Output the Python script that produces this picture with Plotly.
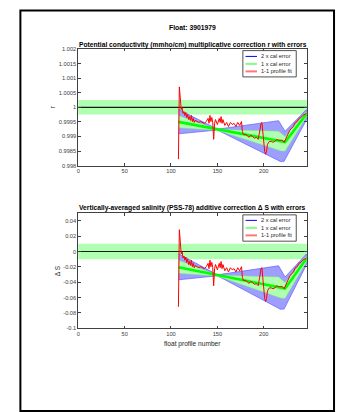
import plotly.graph_objects as go

# ---------------- data ----------------
profiles = [108, 109, 110, 111, 112, 113, 114, 115, 116, 117, 118, 119, 120, 121, 122, 123, 124, 125, 126,
            128, 130, 132, 134, 136, 138, 140, 141, 142, 143, 144, 145, 146, 147, 148, 150, 152, 153, 154,
            155, 156, 158, 160, 162, 164, 166, 168, 170, 172, 174, 176, 177, 178, 180, 182, 184, 186, 188,
            190, 192, 194, 196, 197, 198, 199, 200, 201, 202, 203, 204, 205, 206, 208, 210, 212, 214, 216,
            218, 220, 222, 224, 226, 228, 230, 232, 234, 236, 238, 240, 242, 244, 246]

cond_profile_fit = [0.99822, 1.00070, 1.00033, 0.99992, 0.99999, 0.99979, 0.99985, 0.99972, 0.99982, 0.99965,
                    0.99975, 0.99958, 0.99968, 0.99955, 0.99972, 0.99951, 0.99962, 0.99948, 0.99955,
                    0.99951, 0.99948, 0.99951, 0.99948, 0.99945, 0.99951, 0.99962, 0.99945, 0.99972, 0.99951,
                    0.99965, 0.99948, 0.99890, 0.99945, 0.99958, 0.99941, 0.99962, 0.99948, 0.99968,
                    0.99945, 0.99958, 0.99938, 0.99948, 0.99934, 0.99948, 0.99941, 0.99945, 0.99934, 0.99948,
                    0.99938, 0.99951, 0.99917, 0.99907, 0.99907, 0.99904, 0.99897, 0.99904, 0.99900,
                    0.99894, 0.99897, 0.99890, 0.99924, 0.99945, 0.99948, 0.99917, 0.99866, 0.99849, 0.99839,
                    0.99849, 0.99873, 0.99880, 0.99883, 0.99883, 0.99880, 0.99883, 0.99890, 0.99887,
                    0.99887, 0.99887, 0.99880, 0.99894, 0.99907, 0.99921, 0.99928, 0.99934, 0.99948, 0.99951,
                    0.99962, 0.99965, 0.99972, 0.99975, 0.99979]

sal_profile_fit = [-0.0721, 0.0284, 0.0134, -0.0032, -0.0004, -0.0085, -0.0061, -0.0113, -0.0073, -0.0142,
                   -0.0101, -0.0170, -0.0130, -0.0182, -0.0113, -0.0198, -0.0154, -0.0211, -0.0182,
                   -0.0198, -0.0211, -0.0198, -0.0211, -0.0223, -0.0198, -0.0154, -0.0223, -0.0113, -0.0198,
                   -0.0142, -0.0211, -0.0446, -0.0223, -0.0170, -0.0239, -0.0154, -0.0211, -0.0130,
                   -0.0223, -0.0170, -0.0251, -0.0211, -0.0267, -0.0211, -0.0239, -0.0223, -0.0267, -0.0211,
                   -0.0251, -0.0198, -0.0336, -0.0377, -0.0377, -0.0389, -0.0417, -0.0389, -0.0405,
                   -0.0429, -0.0417, -0.0446, -0.0308, -0.0223, -0.0211, -0.0336, -0.0543, -0.0612, -0.0652,
                   -0.0612, -0.0514, -0.0486, -0.0474, -0.0474, -0.0486, -0.0474, -0.0446, -0.0458,
                   -0.0458, -0.0458, -0.0486, -0.0429, -0.0377, -0.0320, -0.0292, -0.0267, -0.0211, -0.0198,
                   -0.0154, -0.0142, -0.0113, -0.0101, -0.0085]

fit_x = [108, 223, 246]
cond_fit = [0.99950, 0.99881, 0.99977]
sal_fit = [-0.0205, -0.0482, -0.0093]

err2_upper_x = [108, 150, 216, 223, 246]
err2_lower_x = [108, 150, 218, 222, 246]
cond_err2_upper = [0.99993, 0.99925, 0.99954, 0.99918, 0.99992]
cond_err2_lower = [0.99909, 0.99922, 0.99814, 0.99815, 0.99957]
sal_err2_upper = [-0.0028, -0.0304, -0.0186, -0.0332, -0.0032]
sal_err2_lower = [-0.0369, -0.0316, -0.0753, -0.0749, -0.0174]

err1_upper_x = [108, 150, 216, 223, 246]
err1_lower_x = [108, 150, 219, 223, 246]
cond_err1_upper = [0.99972, 0.99924, 0.99918, 0.99900, 0.99984]
cond_err1_lower = [0.99930, 0.99921, 0.99850, 0.99850, 0.99967]
sal_err1_upper = [-0.0113, -0.0308, -0.0332, -0.0405, -0.0065]
sal_err1_lower = [-0.0284, -0.0320, -0.0608, -0.0608, -0.0134]

cond_ref = 1.0
cond_ref_band = 0.00025
sal_ref = 0.0
sal_ref_band = 0.01

x_ticks = [0, 50, 100, 150, 200]
cond_ticks = [0.998, 0.9985, 0.999, 0.9995, 1.0, 1.0005, 1.001, 1.0015, 1.002]
cond_ticktext = ["0.998", "0.9985", "0.999", "0.9995", "1", "1.0005", "1.001", "1.0015", "1.002"]
sal_ticks = [-0.1, -0.08, -0.06, -0.04, -0.02, 0, 0.02, 0.04]
sal_ticktext = ["-0.1", "-0.08", "-0.06", "-0.04", "-0.02", "0", "0.02", "0.04"]

legend_labels = ["2 x cal error", "1 x cal error", "1-1 profile fit"]

# ---------------- styling ----------------
W, H = 338, 412
FONT = "Liberation Sans, Arial, sans-serif"
BLUE_FILL = "rgb(158,158,255)"
BLUE_EDGE = "rgb(95,95,255)"
GREEN_FILL = "rgb(176,255,176)"
GREEN_LINE = "rgb(0,255,0)"
RED = "rgb(255,0,0)"
AX = "#404040"


def px(x):
    return x / W


def py(y):
    return 1 - y / H


fig = go.Figure()


def add_panel(xa, ya, fit_y, e2u, e2l, e1u, e1l, red):
    fig.add_trace(go.Scatter(x=err2_upper_x + err2_lower_x[::-1], y=e2u + e2l[::-1],
                             fill="toself", fillcolor=BLUE_FILL, mode="lines",
                             line=dict(color=BLUE_EDGE, width=0.7),
                             xaxis=xa, yaxis=ya, showlegend=False, hoverinfo="skip"))
    fig.add_trace(go.Scatter(x=err1_upper_x + err1_lower_x[::-1], y=e1u + e1l[::-1],
                             fill="toself", fillcolor=GREEN_FILL, mode="lines",
                             line=dict(color="rgb(120,240,120)", width=0.5),
                             xaxis=xa, yaxis=ya, showlegend=False, hoverinfo="skip"))
    fig.add_trace(go.Scatter(x=fit_x, y=fit_y, mode="lines",
                             line=dict(color=GREEN_LINE, width=2.6),
                             xaxis=xa, yaxis=ya, showlegend=False))
    fig.add_trace(go.Scatter(x=profiles, y=red, mode="lines",
                             line=dict(color=RED, width=1),
                             xaxis=xa, yaxis=ya, showlegend=False))


add_panel("x", "y", cond_fit, cond_err2_upper, cond_err2_lower, cond_err1_upper, cond_err1_lower,
          cond_profile_fit)
add_panel("x2", "y2", sal_fit, sal_err2_upper, sal_err2_lower, sal_err1_upper, sal_err1_lower,
          sal_profile_fit)

shapes = []
for xr, yr, ref, band in [("x", "y", cond_ref, cond_ref_band), ("x2", "y2", sal_ref, sal_ref_band)]:
    shapes.append(dict(type="rect", xref=xr + " domain", yref=yr, x0=0, x1=1,
                       y0=ref - band, y1=ref + band, fillcolor=GREEN_FILL, line=dict(width=0),
                       layer="below"))
    shapes.append(dict(type="line", xref=xr + " domain", yref=yr, x0=0, x1=1, y0=ref, y1=ref,
                       line=dict(color="#1a1a1a", width=1.2), layer="below"))

shapes.append(dict(type="rect", xref="paper", yref="paper", x0=px(18.5), x1=px(334), y0=py(414),
                   y1=py(7.5), line=dict(color="black", width=2), fillcolor="rgba(0,0,0,0)"))

annotations = [
    dict(x=px(192), y=py(25), text="<b>Float: 3901979</b>", showarrow=False, xanchor="center",
         yanchor="middle", font=dict(family=FONT, size=6.8, color="black")),
    dict(x=px(192), y=py(42.3),
         text="<b>Potential conductivity (mmho/cm) multiplicative correction r with errors</b>",
         showarrow=False, xanchor="center", yanchor="middle", font=dict(family=FONT, size=6.7, color="black")),
    dict(x=px(192), y=py(208.3),
         text="<b>Vertically-averaged salinity (PSS-78) additive correction \u0394 S with errors</b>",
         showarrow=False, xanchor="center", yanchor="middle", font=dict(family=FONT, size=6.7, color="black")),
    dict(x=px(192), y=py(346), text="float profile number", showarrow=False, xanchor="center",
         yanchor="middle", font=dict(family=FONT, size=6.6, color="#262626")),
    dict(x=px(50.5), y=py(105.7), text="r", showarrow=False, textangle=-90, xanchor="center",
         yanchor="middle", font=dict(family=FONT, size=6.6, color="#262626")),
    dict(x=px(55.5), y=py(272), text="\u0394 S", showarrow=False, textangle=-90, xanchor="center",
         yanchor="middle", font=dict(family=FONT, size=6.6, color="#262626")),
]

leg_colors = [("rgb(0,0,255)", 1), ("rgb(130,255,130)", 2), ("rgb(255,120,120)", 2)]
for top, rows in [(48.3, [54.2, 61.8, 69.4]), (215.0, [220.6, 228.2, 235.8])]:
    shapes.append(dict(type="rect", xref="paper", yref="paper", x0=px(242.3), x1=px(296),
                       y0=py(top + 26.7), y1=py(top), line=dict(color="#262626", width=0.8),
                       fillcolor="white"))
    for (c, lw), row, lab in zip(leg_colors, rows, legend_labels):
        shapes.append(dict(type="line", xref="paper", yref="paper", x0=px(245), x1=px(256.5),
                           y0=py(row), y1=py(row), line=dict(color=c, width=lw)))
        annotations.append(dict(x=px(258.3), y=py(row), text=lab,
                                showarrow=False, xanchor="left", yanchor="middle",
                                font=dict(family=FONT, size=5.6, color="#262626")))

for a in annotations:
    a["xref"] = "paper"
    a["yref"] = "paper"

axis_common = dict(showline=True, linecolor=AX, linewidth=0.8, mirror="ticks", ticks="inside",
                   ticklen=2.5, tickwidth=0.8, tickcolor=AX, showgrid=False, zeroline=False,
                   tickfont=dict(family=FONT, size=5.7, color="#404040"))

fig.update_layout(
    width=W, height=H, margin=dict(l=0, r=0, t=0, b=0),
    paper_bgcolor="white", plot_bgcolor="white", showlegend=False,
    xaxis=dict(domain=[px(76.7), px(306.7)], range=[0, 246.5], anchor="y", tickvals=x_ticks,
               ticktext=[str(v) for v in x_ticks], **axis_common),
    yaxis=dict(domain=[py(165), py(46.7)], range=[0.998, 1.002], anchor="x", tickvals=cond_ticks,
               ticktext=cond_ticktext, **axis_common),
    xaxis2=dict(domain=[px(76.7), px(306.7)], range=[0, 246.5], anchor="y2", tickvals=x_ticks,
                ticktext=[str(v) for v in x_ticks], **axis_common),
    yaxis2=dict(domain=[py(330), py(213.3)], range=[-0.1, 0.05], anchor="x2", tickvals=sal_ticks,
                ticktext=sal_ticktext, **axis_common),
    shapes=shapes, annotations=annotations,
)

fig.write_html("out.html", config={"displayModeBar": False},
               post_script="document.body.style.margin='0';")
